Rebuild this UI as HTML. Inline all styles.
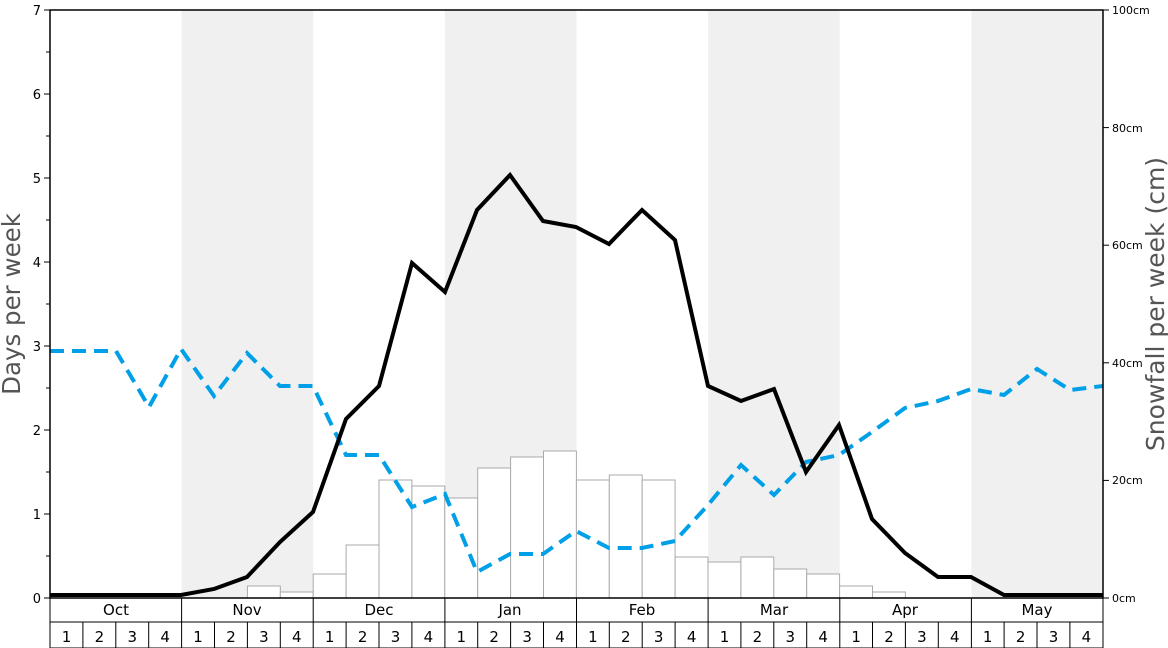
<!DOCTYPE html>
<html><head><meta charset="utf-8"><style>
body{margin:0;background:#fff;}
svg{display:block;font-family:"DejaVu Sans","Liberation Sans",sans-serif;}
</style></head><body>
<svg width="1168" height="648" viewBox="0 0 1168 648" xmlns="http://www.w3.org/2000/svg">
<rect width="1168" height="648" fill="#fff"/>
<g fill="#f0f0f0">
<rect x="181.6" y="10" width="131.6" height="588"/>
<rect x="444.9" y="10" width="131.6" height="588"/>
<rect x="708.1" y="10" width="131.6" height="588"/>
<rect x="971.4" y="10" width="131.6" height="588"/>
</g>
<g fill="#fff" stroke="#aaa" stroke-width="1">
<rect x="247.4" y="586" width="32.9" height="12"/>
<rect x="280.3" y="592" width="32.9" height="6"/>
<rect x="313.2" y="574" width="32.9" height="24"/>
<rect x="346.1" y="545" width="32.9" height="53"/>
<rect x="379" y="480" width="32.9" height="118"/>
<rect x="411.9" y="486" width="32.9" height="112"/>
<rect x="444.8" y="498" width="32.9" height="100"/>
<rect x="477.7" y="468" width="32.9" height="130"/>
<rect x="510.6" y="457" width="32.9" height="141"/>
<rect x="543.5" y="451" width="32.9" height="147"/>
<rect x="576.4" y="480" width="32.9" height="118"/>
<rect x="609.3" y="475" width="32.9" height="123"/>
<rect x="642.2" y="480" width="32.9" height="118"/>
<rect x="675.1" y="557" width="32.9" height="41"/>
<rect x="708" y="562" width="32.9" height="36"/>
<rect x="740.9" y="557" width="32.9" height="41"/>
<rect x="773.8" y="569" width="32.9" height="29"/>
<rect x="806.7" y="574" width="32.9" height="24"/>
<rect x="839.6" y="586" width="32.9" height="12"/>
<rect x="872.5" y="592" width="32.9" height="6"/>
</g>
<polyline fill="none" stroke="#00a0e8" stroke-width="4" stroke-dasharray="14,8" points="50,351 83,351 116,351 149,407 181,349 214,396 247,353 280,386 313,386 346,455 379,455 412,507 445,494 477,572 510,554 543,554 576,531 609,548 642,548 675,541 708,505 741,465 774,495 806,462 839,455 872,432 905,408 938,401 971,389 1004,395 1037,369 1070,390 1103,386"/>
<polyline fill="none" stroke="#000" stroke-width="4" stroke-linejoin="miter" points="50,595 83,595 116,595 149,595 181,595 214,589 247,577 280,542 313,512 346,419 379,386 412,263 445,292 477,210 510,175 543,221 576,227 609,244 642,210 675,240 708,386 741,401 774,389 806,472 839,425 872,519 905,553 938,577 971,577 1004,595 1037,595 1070,595 1103,595"/>
<rect x="50" y="10" width="1053" height="588" fill="none" stroke="#000" stroke-width="1.5"/>
<g stroke="#000" stroke-width="1">
<line x1="44" y1="598" x2="50" y2="598"/><line x1="44" y1="514" x2="50" y2="514"/><line x1="44" y1="430" x2="50" y2="430"/><line x1="44" y1="346" x2="50" y2="346"/><line x1="44" y1="262" x2="50" y2="262"/><line x1="44" y1="178" x2="50" y2="178"/><line x1="44" y1="94" x2="50" y2="94"/><line x1="44" y1="10" x2="50" y2="10"/>
<line x1="46" y1="556" x2="50" y2="556"/><line x1="46" y1="472" x2="50" y2="472"/><line x1="46" y1="388" x2="50" y2="388"/><line x1="46" y1="304" x2="50" y2="304"/><line x1="46" y1="220" x2="50" y2="220"/><line x1="46" y1="136" x2="50" y2="136"/><line x1="46" y1="52" x2="50" y2="52"/>
<line x1="1103" y1="598" x2="1109" y2="598"/><line x1="1103" y1="480.4" x2="1109" y2="480.4"/><line x1="1103" y1="362.8" x2="1109" y2="362.8"/><line x1="1103" y1="245.2" x2="1109" y2="245.2"/><line x1="1103" y1="127.6" x2="1109" y2="127.6"/><line x1="1103" y1="10" x2="1109" y2="10"/>
</g>
<g font-size="13" text-anchor="end" fill="#000">
<text x="41" y="603">0</text><text x="41" y="519">1</text><text x="41" y="435">2</text><text x="41" y="351">3</text><text x="41" y="267">4</text><text x="41" y="183">5</text><text x="41" y="99">6</text><text x="41" y="15">7</text>
</g>
<g font-size="11" fill="#000">
<text x="1112" y="602">0cm</text><text x="1112" y="484">20cm</text><text x="1112" y="367">40cm</text><text x="1112" y="249">60cm</text><text x="1112" y="132">80cm</text><text x="1112" y="14">100cm</text>
</g>
<text transform="translate(20,304) rotate(-90)" font-size="24.5" fill="#555" text-anchor="middle">Days per week</text>
<text transform="translate(1164,304) rotate(-90)" font-size="25" fill="#555" text-anchor="middle">Snowfall per week (cm)</text>
<g stroke="#000" stroke-width="1" fill="none">
<rect x="50" y="598" width="1053" height="50"/>
<line x1="50" y1="622" x2="1103" y2="622"/>
<line x1="181.6" y1="598" x2="181.6" y2="648"/><line x1="313.2" y1="598" x2="313.2" y2="648"/><line x1="444.9" y1="598" x2="444.9" y2="648"/><line x1="576.5" y1="598" x2="576.5" y2="648"/><line x1="708.1" y1="598" x2="708.1" y2="648"/><line x1="839.8" y1="598" x2="839.8" y2="648"/><line x1="971.4" y1="598" x2="971.4" y2="648"/>
</g>
<g font-size="15" text-anchor="middle" fill="#000">
<text x="116" y="615">Oct</text><text x="247" y="615">Nov</text><text x="379" y="615">Dec</text><text x="510" y="615">Jan</text><text x="642" y="615">Feb</text><text x="774" y="615">Mar</text><text x="905" y="615">Apr</text><text x="1037" y="615">May</text>
</g>
<g stroke="#000" stroke-width="1">
<line x1="82.9" y1="622" x2="82.9" y2="648"/><line x1="115.8" y1="622" x2="115.8" y2="648"/><line x1="148.7" y1="622" x2="148.7" y2="648"/>
<line x1="214.5" y1="622" x2="214.5" y2="648"/><line x1="247.4" y1="622" x2="247.4" y2="648"/><line x1="280.3" y1="622" x2="280.3" y2="648"/>
<line x1="346.1" y1="622" x2="346.1" y2="648"/><line x1="379" y1="622" x2="379" y2="648"/><line x1="411.9" y1="622" x2="411.9" y2="648"/>
<line x1="477.7" y1="622" x2="477.7" y2="648"/><line x1="510.6" y1="622" x2="510.6" y2="648"/><line x1="543.5" y1="622" x2="543.5" y2="648"/>
<line x1="609.3" y1="622" x2="609.3" y2="648"/><line x1="642.2" y1="622" x2="642.2" y2="648"/><line x1="675.1" y1="622" x2="675.1" y2="648"/>
<line x1="740.9" y1="622" x2="740.9" y2="648"/><line x1="773.8" y1="622" x2="773.8" y2="648"/><line x1="806.7" y1="622" x2="806.7" y2="648"/>
<line x1="872.5" y1="622" x2="872.5" y2="648"/><line x1="905.4" y1="622" x2="905.4" y2="648"/><line x1="938.3" y1="622" x2="938.3" y2="648"/>
<line x1="1004.1" y1="622" x2="1004.1" y2="648"/><line x1="1037" y1="622" x2="1037" y2="648"/><line x1="1069.9" y1="622" x2="1069.9" y2="648"/>
</g>
<g font-size="15" text-anchor="middle" fill="#000">
<text x="66.5" y="642">1</text><text x="99.4" y="642">2</text><text x="132.3" y="642">3</text><text x="165.2" y="642">4</text>
<text x="198" y="642">1</text><text x="231" y="642">2</text><text x="263.9" y="642">3</text><text x="296.8" y="642">4</text>
<text x="329.7" y="642">1</text><text x="362.6" y="642">2</text><text x="395.5" y="642">3</text><text x="428.4" y="642">4</text>
<text x="461.3" y="642">1</text><text x="494.2" y="642">2</text><text x="527.1" y="642">3</text><text x="560" y="642">4</text>
<text x="592.9" y="642">1</text><text x="625.8" y="642">2</text><text x="658.7" y="642">3</text><text x="691.6" y="642">4</text>
<text x="724.5" y="642">1</text><text x="757.4" y="642">2</text><text x="790.3" y="642">3</text><text x="823.2" y="642">4</text>
<text x="856.1" y="642">1</text><text x="889" y="642">2</text><text x="921.9" y="642">3</text><text x="954.8" y="642">4</text>
<text x="987.7" y="642">1</text><text x="1020.6" y="642">2</text><text x="1053.5" y="642">3</text><text x="1086.4" y="642">4</text>
</g>
</svg>
</body></html>
